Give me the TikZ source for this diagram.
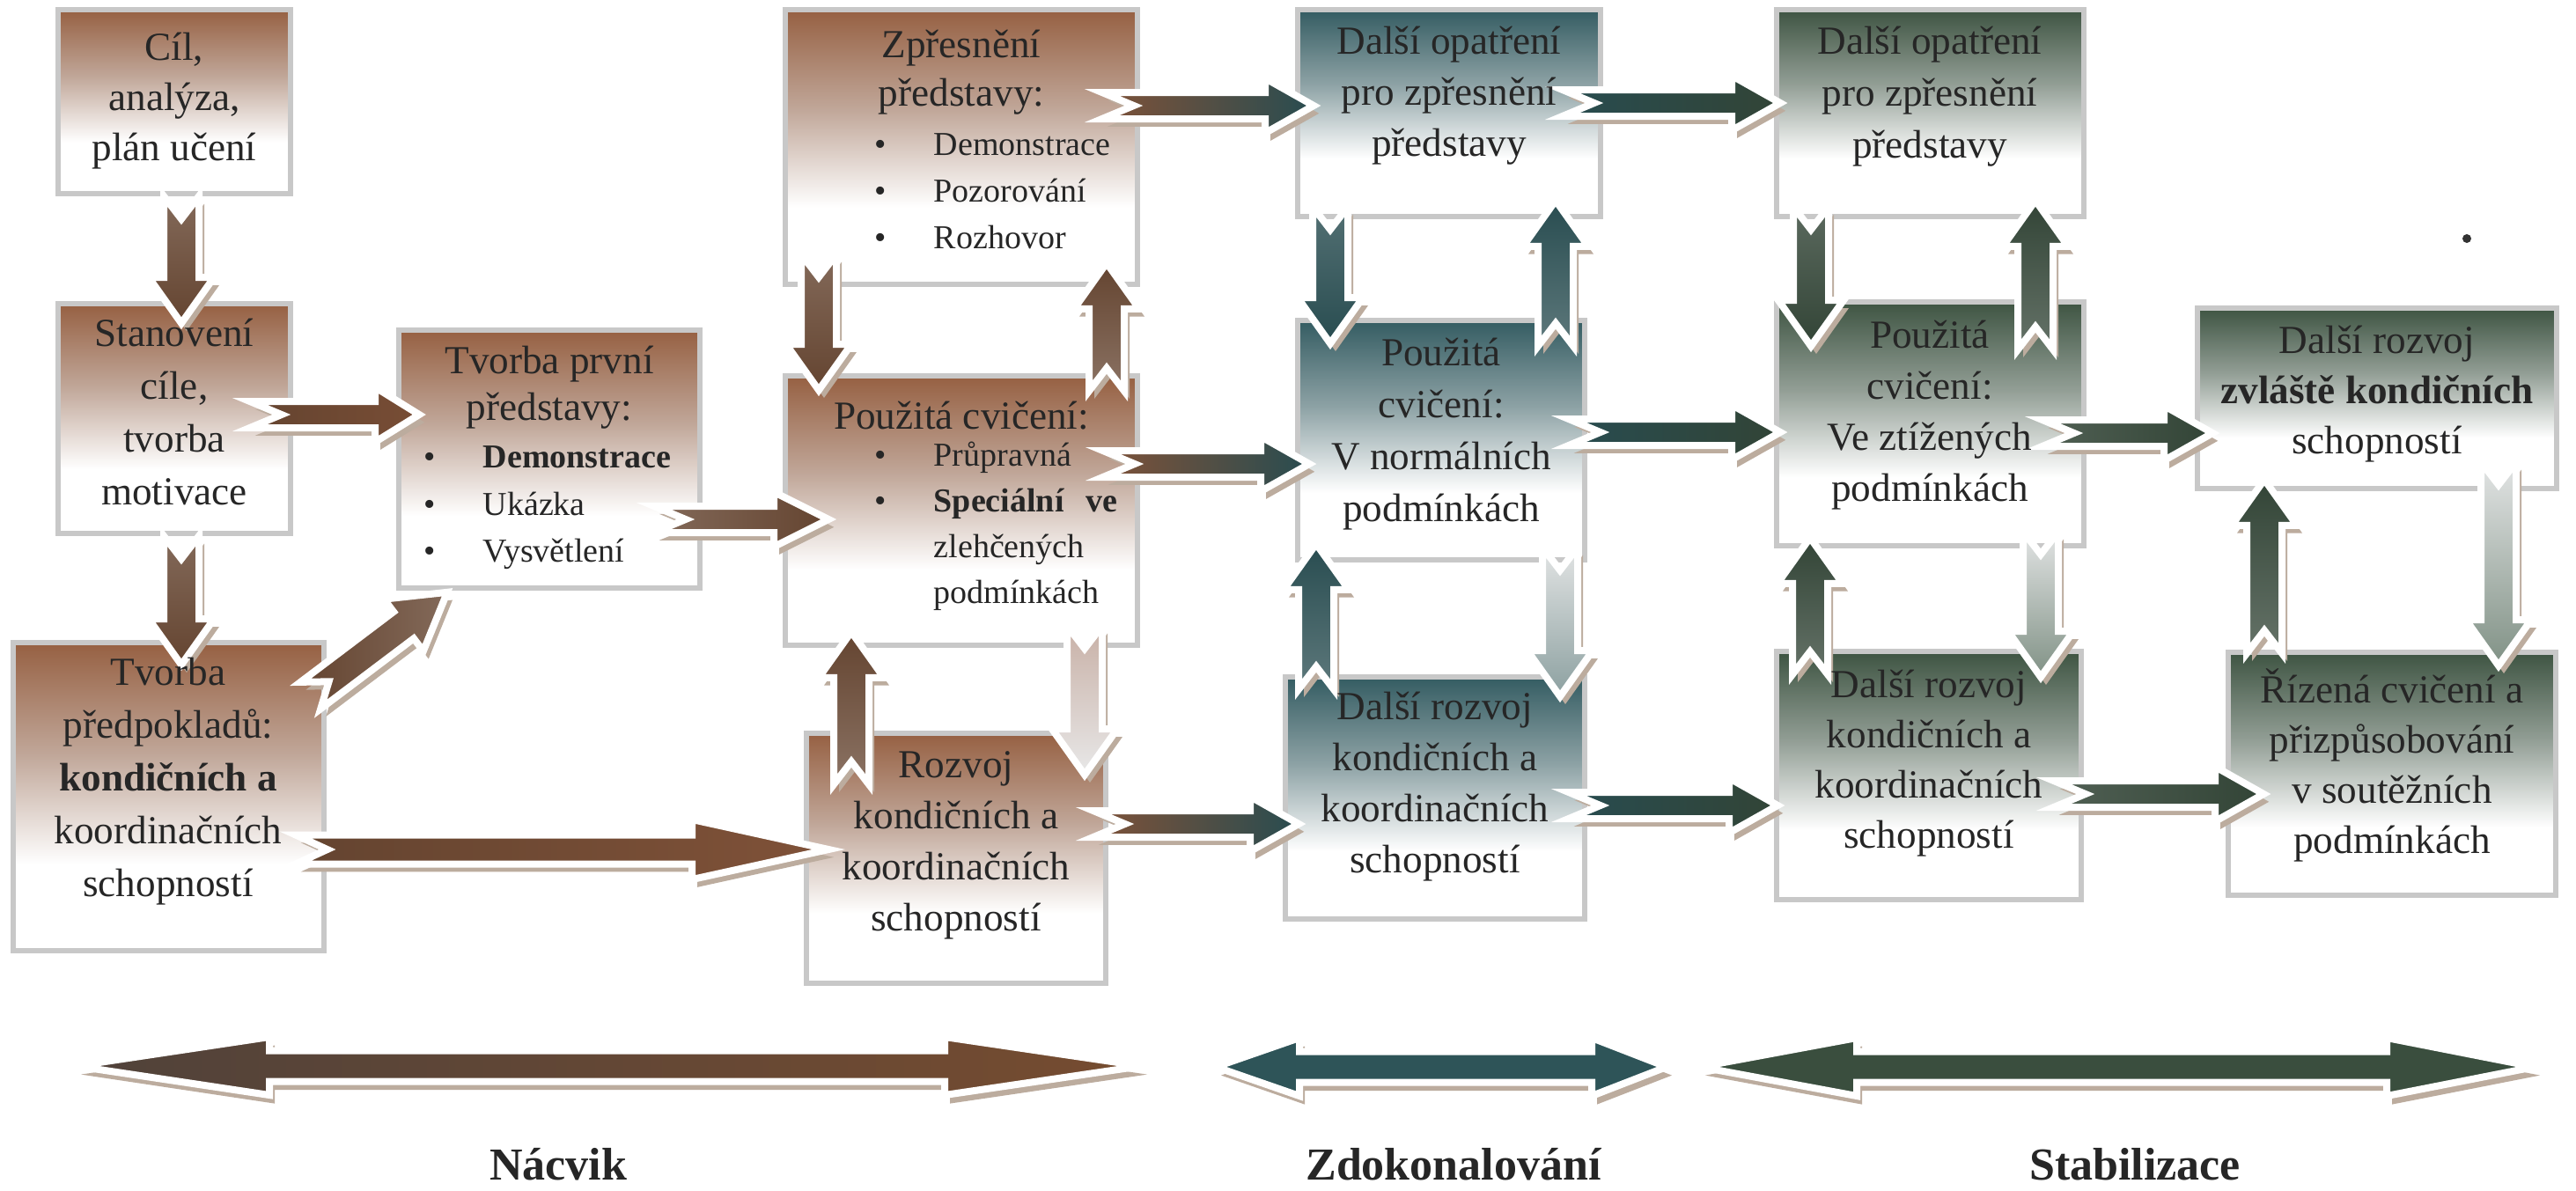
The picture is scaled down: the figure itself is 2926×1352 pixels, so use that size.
\documentclass[tikz,border=0pt]{standalone}
\usepackage{fontspec}
\setmainfont{Liberation Serif}
\usetikzlibrary{calc}
\definecolor{brownc}{RGB}{150,96,66}
\definecolor{tealc}{RGB}{52,92,98}
\definecolor{greenc}{RGB}{62,84,66}
\definecolor{brownmid}{RGB}{192,166,152}
\definecolor{tealmidb}{RGB}{141,162,165}
\definecolor{greenmidb}{RGB}{146,158,149}
\definecolor{browndk}{RGB}{100,68,48}
\definecolor{tealdk}{RGB}{40,76,80}
\definecolor{greendk}{RGB}{50,68,54}
\definecolor{framegray}{RGB}{200,200,200}
\definecolor{shadowc}{RGB}{188,172,158}
\definecolor{textc}{RGB}{38,38,38}
\definecolor{lightbr}{RGB}{200,176,166}
\definecolor{lightgr}{RGB}{232,232,232}
\definecolor{lighttop}{RGB}{226,228,228}
\definecolor{tealmid}{RGB}{140,160,160}
\definecolor{greenmid}{RGB}{128,145,133}
\pgfdeclareverticalshading{brownfade}{100bp}{color(0bp)=(white); color(25bp)=(white); color(39bp)=(white); color(57bp)=(brownmid); color(75bp)=(brownc); color(100bp)=(brownc)}
\pgfdeclareverticalshading{tealfade}{100bp}{color(0bp)=(white); color(25bp)=(white); color(39bp)=(white); color(57bp)=(tealmidb); color(75bp)=(tealc); color(100bp)=(tealc)}
\pgfdeclareverticalshading{greenfade}{100bp}{color(0bp)=(white); color(25bp)=(white); color(39bp)=(white); color(57bp)=(greenmidb); color(75bp)=(greenc); color(100bp)=(greenc)}
\tikzset{
  box/.style={rectangle, inner sep=0pt, draw=framegray, line width=1.4pt, fill=white,
    path picture={\shade[shading=#1]
      (path picture bounding box.south west) rectangle (path picture bounding box.north east);}},
  hd/.style={font={\fontsize{11.3}{#1}\selectfont}, align=center, anchor=north, inner sep=0pt,
    text=textc, execute at begin node={\rule{0pt}{11pt}}},
  bul/.style={font={\fontsize{9.5}{#1}\selectfont}, align=left, anchor=north west, inner sep=0pt,
    text=textc, execute at begin node={\rule{0pt}{9.5pt}}},
  arrowline/.style={draw=white, line width=2pt, line join=miter},
  phase/.style={font={\fontsize{13}{15}\selectfont\bfseries}, anchor=base, inner sep=0pt, text=black!85},
}
\newcommand\mkbox[6]{\node[box=#6, minimum width={(#4-#2)*0.25pt}, minimum height={(#5-#3)*0.25pt}]
  (#1) at ({(#2+#4)/2},{(#3+#5)/2}) {};}
\newcommand\bitem[1]{\makebox[16.75pt][l]{•}#1}
% block arrow: #1 start, #2 end, #3 shaft half, #4 head half, #5 head length, #6 notch depth (px), #7 fill
\newcommand\barrow[7]{%
  \coordinate (bs) at (#1);
  \coordinate (be) at (#2);
  \pgfmathsetmacro\arSW{#3*0.25}%
  \pgfmathsetmacro\arHW{#4*0.25}%
  \pgfmathsetmacro\arHL{#5*0.25}%
  \pgfmathsetmacro\arND{#6*0.25}%
  \coordinate (bh) at ($(be)!\arHL pt!(bs)$);
  \coordinate (bn) at ($(bs)!\arND pt!(be)$);
  \coordinate (p1) at ($(bs)!\arSW pt!90:(be)$);
  \coordinate (p2) at ($(bh)!\arSW pt!-90:(bs)$);
  \coordinate (p3) at ($(bh)!\arHW pt!-90:(bs)$);
  \coordinate (p5) at ($(bh)!\arHW pt!90:(bs)$);
  \coordinate (p6) at ($(bh)!\arSW pt!90:(bs)$);
  \coordinate (p7) at ($(bs)!\arSW pt!-90:(be)$);
  \fill[shadowc, transform canvas={shift={(1.5pt,-2.2pt)}}]
    (p1)--(p2)--(p3)--(be)--(p5)--(p6)--(p7)--(bn)--cycle;
  \draw[arrowline, #7] (p1)--(p2)--(p3)--(be)--(p5)--(p6)--(p7)--(bn)--cycle;
}
% double arrow: #1 start, #2 end, #3 shaft half, #4 head half, #5 left head length, #6 right head length, #7 fill
\newcommand\dbarrow[7]{%
  \coordinate (bs) at (#1);
  \coordinate (be) at (#2);
  \pgfmathsetmacro\arSW{#3*0.25}%
  \pgfmathsetmacro\arHW{#4*0.25}%
  \pgfmathsetmacro\arHL{#5*0.25}%
  \pgfmathsetmacro\arHR{#6*0.25}%
  \coordinate (h1) at ($(bs)!\arHL pt!(be)$);
  \coordinate (h2) at ($(be)!\arHR pt!(bs)$);
  \coordinate (q1) at ($(h1)!\arHW pt!90:(be)$);
  \coordinate (q2) at ($(h1)!\arSW pt!90:(be)$);
  \coordinate (q3) at ($(h2)!\arSW pt!-90:(bs)$);
  \coordinate (q4) at ($(h2)!\arHW pt!-90:(bs)$);
  \coordinate (q5) at ($(h2)!\arHW pt!90:(bs)$);
  \coordinate (q6) at ($(h2)!\arSW pt!90:(bs)$);
  \coordinate (q7) at ($(h1)!\arSW pt!-90:(be)$);
  \coordinate (q8) at ($(h1)!\arHW pt!-90:(be)$);
  \fill[shadowc, transform canvas={shift={(1.5pt,-2.4pt)}}]
    (bs)--(q1)--(q2)--(q3)--(q4)--(be)--(q5)--(q6)--(q7)--(q8)--cycle;
  \draw[arrowline, #7] (bs)--(q1)--(q2)--(q3)--(q4)--(be)--(q5)--(q6)--(q7)--(q8)--cycle;
}
\begin{document}
\begin{tikzpicture}[x=0.25pt,y=-0.25pt]
\useasboundingbox (0,0) rectangle (2926,1352);
\fill[white] (0,0) rectangle (2926,1352);

% ---------- boxes ----------
\mkbox{A}{66}{11}{330}{220}{brownfade}
\mkbox{B}{66}{345}{330}{606}{brownfade}
\mkbox{C}{15}{730}{368}{1080}{brownfade}
\mkbox{D}{453}{375}{795}{668}{brownfade}
\mkbox{E}{892}{11}{1292}{323}{brownfade}
\mkbox{F}{892}{427}{1292}{733}{brownfade}
\mkbox{G}{916}{833}{1256}{1117}{brownfade}
\mkbox{H}{1474}{11}{1818}{246}{tealfade}
\mkbox{I}{1474}{364}{1800}{636}{tealfade}
\mkbox{J}{1460}{769}{1800}{1044}{tealfade}
\mkbox{K}{2018}{11}{2367}{246}{greenfade}
\mkbox{L}{2018}{343}{2367}{620}{greenfade}
\mkbox{M}{2018}{740}{2364}{1022}{greenfade}
\mkbox{N}{2496}{350}{2904}{555}{greenfade}
\mkbox{O}{2531}{741}{2903}{1017}{greenfade}

% ---------- arrows: Nacvik ----------
\barrow{$(A.south)+(8,0)$}{$(B.north)+(8,25)$}{20}{37}{52}{26}{top color=browndk!80!white, bottom color=browndk}
\barrow{$(B.south)+(8,0)$}{$(C.north)+(14.5,28)$}{20}{37}{52}{26}{top color=browndk!80!white, bottom color=browndk}
\barrow{$(B.east)+(-49,-4.5)$}{$(D.west)+(26,-50.5)$}{15}{31}{50}{36}{left color=browndk, right color=brownc!80!black}
\barrow{$(C.east)+(-18,-115)$}{$(D.south)+(-116,2)$}{19}{37}{62}{26}{left color=browndk, right color=browndk!80!white}
\barrow{$(D.east)+(-55,68.5)$}{$(F.west)+(52,10)$}{15}{31}{62}{36}{left color=browndk!80!white, right color=browndk}
\barrow{$(C.east)+(-35,60)$}{$(G.west)+(28,-10)$}{16.5}{34}{155}{36}{left color=browndk, right color=brownc!85!black}
\barrow{$(E.south)+(-162,-37)$}{$(F.north)+(-162,19)$}{20}{37}{52}{26}{top color=browndk!80!white, bottom color=browndk}
\barrow{$(F.north)+(165,20)$}{$(E.south)+(165,-27)$}{20}{37}{52}{26}{top color=browndk, bottom color=browndk!75!white}
\barrow{$(E.east)+(-43,-47)$}{$(H.west)+(21,-8.5)$}{15}{31}{55}{36}{left color=brownc!85!black, right color=tealdk}
\barrow{$(F.east)+(-42,-53)$}{$(I.west)+(16,27)$}{15}{31}{55}{36}{left color=brownc!85!black, right color=tealdk}
\barrow{$(G.north)+(-119,61)$}{$(F.south)+(-125,-18)$}{20}{37}{52}{26}{top color=browndk, bottom color=browndk!75!white}
\barrow{$(F.south)+(140,-25)$}{$(G.north)+(146,50)$}{20}{37}{52}{26}{top color=lightbr, bottom color=lightgr}
\barrow{$(G.east)+(-17,-39)$}{$(J.west)+(18,29.5)$}{15}{31}{55}{36}{left color=brownc!85!black, right color=tealdk}

% ---------- arrows: Zdokonalovani ----------
\barrow{$(H.south)+(-135,-14)$}{$(I.north)+(-126,29)$}{20}{37}{52}{26}{top color=tealdk!80!white, bottom color=tealdk}
\barrow{$(I.north)+(130,32)$}{$(H.south)+(121,-21)$}{20}{37}{52}{26}{top color=tealdk, bottom color=tealdk!75!white}
\barrow{$(H.east)+(-46,-11.5)$}{$(K.west)+(7,-11.5)$}{15}{31}{55}{36}{left color=tealdk, right color=greendk}
\barrow{$(I.east)+(-21,-9)$}{$(L.west)+(7,9.5)$}{15}{31}{55}{36}{left color=tealdk, right color=greendk}
\barrow{$(J.north)+(-135,17)$}{$(I.south)+(-142,-21)$}{20}{37}{52}{26}{top color=tealdk, bottom color=tealdk!75!white}
\barrow{$(I.south)+(135,-17)$}{$(J.north)+(142,25)$}{20}{37}{52}{26}{top color=lighttop, bottom color=tealmid}
\barrow{$(J.east)+(-21,8.5)$}{$(M.west)+(4,34)$}{15}{31}{55}{36}{left color=tealdk, right color=greendk}

% ---------- arrows: Stabilizace ----------
\barrow{$(K.south)+(-135.5,-14)$}{$(L.north)+(-135.5,53)$}{20}{37}{52}{26}{top color=greendk!80!white, bottom color=greendk}
\barrow{$(L.north)+(119.5,57)$}{$(K.south)+(119.5,-21)$}{20}{37}{52}{26}{top color=greendk, bottom color=greendk!75!white}
\barrow{$(L.east)+(-50,10.5)$}{$(N.west)+(20,39.5)$}{15}{31}{55}{36}{left color=greendk!85!white, right color=greendk}
\barrow{$(M.north)+(-135,29)$}{$(L.south)+(-136.5,-12)$}{20}{37}{52}{26}{top color=greendk, bottom color=greendk!75!white}
\barrow{$(L.south)+(125.5,-19)$}{$(M.north)+(127,32)$}{20}{37}{52}{26}{top color=lighttop, bottom color=greenmid}
\barrow{$(M.east)+(-34,21)$}{$(O.west)+(43,23)$}{15}{31}{55}{36}{left color=greendk!85!white, right color=greendk}
\barrow{$(O.north)+(-145,4)$}{$(N.south)+(-128,-13)$}{20}{37}{52}{26}{top color=greendk, bottom color=greendk!75!white}
\barrow{$(N.south)+(138,-33)$}{$(O.north)+(121,18)$}{20}{37}{52}{26}{top color=lighttop, bottom color=greenmid}

% ---------- phase arrows ----------
\coordinate (nac1) at (86,1211);
\coordinate (nac2) at (1297,1211);
\coordinate (zdo1) at (1381,1212);
\coordinate (zdo2) at (1893,1212);
\coordinate (sta1) at (1931,1212);
\coordinate (sta2) at (2879,1212);
\dbarrow{nac1}{nac2}{17.5}{33}{220}{224}{left color={rgb,255:red,80;green,66;blue,58}, right color={rgb,255:red,118;green,76;blue,48}}
\dbarrow{zdo1}{zdo2}{17.5}{33}{95}{85}{fill={rgb,255:red,46;green,84;blue,88}}
\dbarrow{sta1}{sta2}{17.5}{33}{178}{168}{fill={rgb,255:red,58;green,78;blue,62}}

% ---------- texts ----------
\node[hd=14.25pt] (At) at (198,36) {Cíl,\\analýza,\\plán učení};
\node[hd=15pt] (Bt) at (198,361) {Stanovení\\cíle,\\tvorba\\motivace};
\node[hd=15pt] (Ct) at (191,746) {Tvorba\\předpokladů:\\\textbf{kondičních a}\\koordinačních\\schopností};
\node[hd=13.4pt] (Dt) at (624,392) {Tvorba první\\představy:};
\node[bul=13.4pt] (Db) at (481,506) {\bitem{\textbf{Demonstrace}}\\\bitem{Ukázka}\\\bitem{Vysvětlení}};
\node[hd=13.75pt] (Et) at (1092,33) {Zpřesnění\\představy:};
\node[bul=13.25pt] (Eb) at (993,151) {\bitem{Demonstrace}\\\bitem{Pozorování}\\\bitem{Rozhovor}};
\node[hd=13pt] (Ft) at (1092,443) {Použitá cvičení:};
\node[bul=13pt] (Fb) at (993,501) {\bitem{Průpravná}\\\bitem{\textbf{Speciální}\hspace{6pt}\textbf{ve}}\\\hspace*{16.75pt}zlehčených\\\hspace*{16.75pt}podmínkách};
\node[hd=14.5pt] (Gt) at (1086,853) {Rozvoj\\kondičních a\\koordinačních\\schopností};
\node[hd=14.5pt] (Ht) at (1646,29) {Další opatření\\pro zpřesnění\\představy};
\node[hd=14.75pt] (It) at (1637,383) {Použitá\\cvičení:\\V normálních\\podmínkách};
\node[hd=14.5pt] (Jt) at (1630,785) {Další rozvoj\\kondičních a\\koordinačních\\schopností};
\node[hd=14.75pt] (Kt) at (2192,29) {Další opatření\\pro zpřesnění\\představy};
\node[hd=14.5pt] (Lt) at (2192,363) {Použitá\\cvičení:\\Ve ztížených\\podmínkách};
\node[hd=14.25pt] (Mt) at (2191,760) {Další rozvoj\\kondičních a\\koordinačních\\schopností};
\node[hd=14.25pt] (Nt) at (2700,369) {Další rozvoj\\\textbf{zvláště kondičních}\\schopností};
\node[hd=14.25pt] (Ot) at (2717,759) {Řízená cvičení a\\přizpůsobování\\v soutěžních\\podmínkách};

\node[phase] (nacvik) at (634,1340) {Nácvik};
\node[phase] (zdokon) at (1651,1340) {Zdokonalování};
\node[phase] (stabil) at (2425,1340) {Stabilizace};

\fill[black!80] (2802,271) circle (5);
\end{tikzpicture}
\end{document}
